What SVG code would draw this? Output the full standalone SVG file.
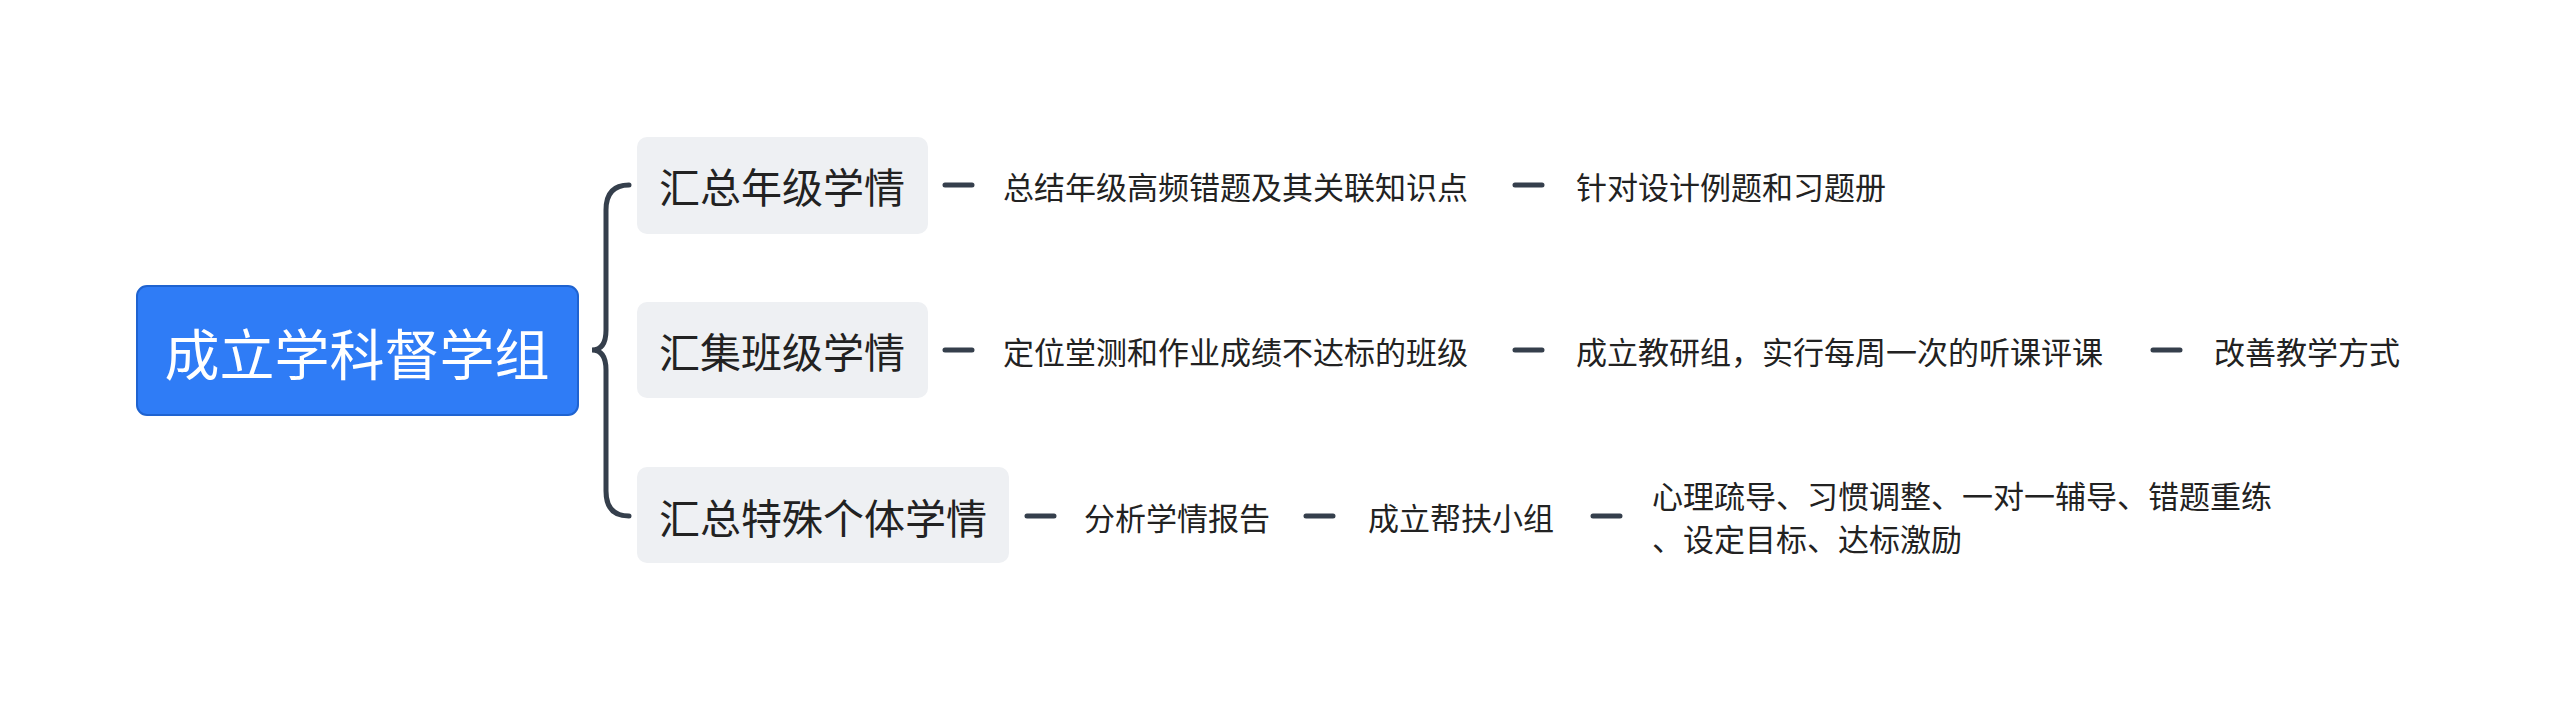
<svg xmlns="http://www.w3.org/2000/svg" width="2560" height="711" viewBox="0 0 2560 711">
<style>
.t{font-family:"Noto Sans CJK SC","Noto Sans",sans-serif;fill:#222;dominant-baseline:central}
.l1{fill:#eef0f3}
.c{stroke:#353f4c;stroke-width:5;fill:none;stroke-linecap:round}
</style>
<rect width="2560" height="711" fill="#fff"/>
<g id="connectors">
<path class="c" d="M629 185 Q606 185 606 210 L606 330 Q606 350 592 350 Q606 350 606 370 L606 491 Q606 516 629 516"/>
<path class="c" d="M945 185H972M1515 185H1542M945 350H972M1515 350H1542M2153 350H2180M1027 516H1054M1306 516H1333M1593 516H1620"/>
</g>
<g id="root"><rect x="137" y="286" width="441" height="129" rx="10" fill="#2f7cf6" stroke="#1f63d0" stroke-width="2"/><text class="t" x="357" y="351" font-size="55" text-anchor="middle" fill="#fff" style="fill:#fff">成立学科督学组</text></g>
<g id="n1"><rect class="l1" x="637" y="137" width="291" height="97" rx="10"/><text class="t" x="782" y="185" font-size="41" text-anchor="middle">汇总年级学情</text></g>
<g id="n2"><rect class="l1" x="637" y="302" width="291" height="96" rx="10"/><text class="t" x="782" y="350" font-size="41" text-anchor="middle">汇集班级学情</text></g>
<g id="n3"><rect class="l1" x="637" y="467" width="372" height="96" rx="10"/><text class="t" x="823" y="516" font-size="41" text-anchor="middle">汇总特殊个体学情</text></g>
<g id="n1a"><text class="t" x="1003" y="185" font-size="31">总结年级高频错题及其关联知识点</text></g>
<g id="n1b"><text class="t" x="1576" y="185" font-size="31">针对设计例题和习题册</text></g>
<g id="n2a"><text class="t" x="1003" y="350" font-size="31">定位堂测和作业成绩不达标的班级</text></g>
<g id="n2b"><text class="t" x="1576" y="350" font-size="31">成立教研组，实行每周一次的听课评课</text></g>
<g id="n2c"><text class="t" x="2214" y="350" font-size="31">改善教学方式</text></g>
<g id="n3a"><text class="t" x="1084" y="516" font-size="31">分析学情报告</text></g>
<g id="n3b"><text class="t" x="1368" y="516" font-size="31">成立帮扶小组</text></g>
<g id="n3c"><text class="t" x="1652" y="494" font-size="31">心理疏导、习惯调整、一对一辅导、错题重练</text><text class="t" x="1652" y="537" font-size="31">、设定目标、达标激励</text></g>
</svg>
